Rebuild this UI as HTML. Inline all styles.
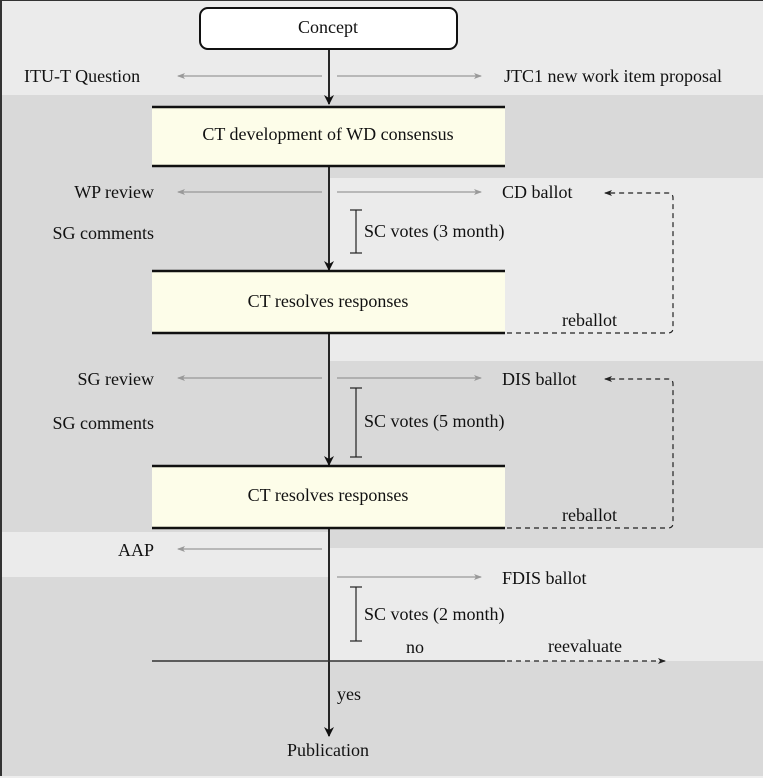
<!DOCTYPE html>
<html><head><meta charset="utf-8"><style>
html,body{margin:0;padding:0;width:763px;height:778px;overflow:hidden;background:#ebebeb}
svg text{font-family:"Liberation Serif",serif;font-size:18px;fill:#111}
</style></head><body>
<svg width="763" height="778" viewBox="0 0 763 778" xmlns="http://www.w3.org/2000/svg">
<defs>
<marker id="ab" markerWidth="10" markerHeight="10" refX="9" refY="5" orient="auto" markerUnits="userSpaceOnUse"><path d="M0,0 L10,5 L0,10 L3,5 Z" fill="#111"/></marker>
<marker id="ag" markerWidth="8" markerHeight="8" refX="7" refY="4" orient="auto" markerUnits="userSpaceOnUse"><path d="M0,1 L8,4 L0,7 L2,4 Z" fill="#999"/></marker>
<marker id="ad" markerWidth="8" markerHeight="8" refX="7" refY="4" orient="auto" markerUnits="userSpaceOnUse"><path d="M0,1 L8,4 L0,7 L2,4 Z" fill="#222"/></marker>
</defs>
<rect x="0" y="0" width="763" height="778" fill="#ebebeb"/>
<rect x="0" y="95" width="763" height="83" fill="#d9d9d9"/>
<rect x="0" y="178" width="330" height="354" fill="#d9d9d9"/>
<rect x="330" y="361" width="433" height="187" fill="#d9d9d9"/>
<rect x="0" y="577" width="330" height="201" fill="#d9d9d9"/>
<rect x="330" y="661" width="433" height="117" fill="#d9d9d9"/>
<rect x="0" y="0" width="2" height="778" fill="#333"/>
<rect x="0" y="0" width="763" height="1" fill="#333"/>
<rect x="0" y="776" width="763" height="2" fill="#eee"/>

<rect x="200" y="8" width="257" height="41" rx="8" fill="#fff" stroke="#111" stroke-width="2"/>
<text x="328" y="33" text-anchor="middle">Concept</text>

<g fill="#fdfde9">
<rect x="152" y="107" width="353" height="59"/>
<rect x="152" y="271" width="353" height="62"/>
<rect x="152" y="466" width="353" height="62"/>
</g>
<g stroke="#111" stroke-width="2.5">
<line x1="152" y1="107" x2="505" y2="107"/><line x1="152" y1="166" x2="505" y2="166"/>
<line x1="152" y1="271" x2="505" y2="271"/><line x1="152" y1="333" x2="505" y2="333"/>
<line x1="152" y1="466" x2="505" y2="466"/><line x1="152" y1="528" x2="505" y2="528"/>
</g>
<text x="328" y="140" text-anchor="middle">CT development of WD consensus</text>
<text x="328" y="307" text-anchor="middle">CT resolves responses</text>
<text x="328" y="501" text-anchor="middle">CT resolves responses</text>

<g stroke="#111" stroke-width="1.8" fill="none">
<line x1="329" y1="49" x2="329" y2="104" marker-end="url(#ab)"/>
<line x1="329" y1="166" x2="329" y2="270" marker-end="url(#ab)"/>
<line x1="329" y1="333" x2="329" y2="465" marker-end="url(#ab)"/>
<line x1="329" y1="528" x2="329" y2="736" marker-end="url(#ab)"/>
</g>
<line x1="152" y1="661" x2="505" y2="661" stroke="#333" stroke-width="1.5"/>
<g stroke="#222" stroke-width="1.2" fill="none" stroke-dasharray="5,4">
<line x1="507" y1="661" x2="665" y2="661" marker-end="url(#ad)"/>
<path d="M507,333 H668 Q673,333 673,328 V198 Q673,193 668,193 H605" marker-end="url(#ad)"/>
<path d="M507,528 H668 Q673,528 673,523 V384 Q673,379 668,379 H605" marker-end="url(#ad)"/>
</g>

<g stroke="#999" stroke-width="1.2">
<line x1="322" y1="76" x2="178" y2="76" marker-end="url(#ag)"/>
<line x1="337" y1="76" x2="481" y2="76" marker-end="url(#ag)"/>
<line x1="322" y1="192" x2="178" y2="192" marker-end="url(#ag)"/>
<line x1="337" y1="192" x2="481" y2="192" marker-end="url(#ag)"/>
<line x1="322" y1="378" x2="178" y2="378" marker-end="url(#ag)"/>
<line x1="337" y1="378" x2="481" y2="378" marker-end="url(#ag)"/>
<line x1="322" y1="549" x2="178" y2="549" marker-end="url(#ag)"/>
<line x1="337" y1="577" x2="481" y2="577" marker-end="url(#ag)"/>
</g>

<g stroke="#222" stroke-width="1.2">
<line x1="356" y1="210" x2="356" y2="253"/><line x1="350" y1="210" x2="362" y2="210"/><line x1="350" y1="253" x2="362" y2="253"/>
<line x1="356" y1="388" x2="356" y2="457"/><line x1="350" y1="388" x2="362" y2="388"/><line x1="350" y1="457" x2="362" y2="457"/>
<line x1="356" y1="587" x2="356" y2="641"/><line x1="350" y1="587" x2="362" y2="587"/><line x1="350" y1="641" x2="362" y2="641"/>
</g>

<text x="24" y="82">ITU-T Question</text>
<text x="504" y="82">JTC1 new work item proposal</text>
<text x="154" y="198" text-anchor="end">WP review</text>
<text x="154" y="239" text-anchor="end">SG comments</text>
<text x="502" y="198">CD ballot</text>
<text x="364" y="237">SC votes (3 month)</text>
<text x="562" y="326">reballot</text>
<text x="154" y="385" text-anchor="end">SG review</text>
<text x="154" y="429" text-anchor="end">SG comments</text>
<text x="502" y="385">DIS ballot</text>
<text x="364" y="427">SC votes (5 month)</text>
<text x="562" y="521">reballot</text>
<text x="154" y="556" text-anchor="end">AAP</text>
<text x="502" y="584">FDIS ballot</text>
<text x="364" y="620">SC votes (2 month)</text>
<text x="406" y="653">no</text>
<text x="548" y="652">reevaluate</text>
<text x="337" y="700">yes</text>
<text x="328" y="756" text-anchor="middle">Publication</text>
</svg>
</body></html>
